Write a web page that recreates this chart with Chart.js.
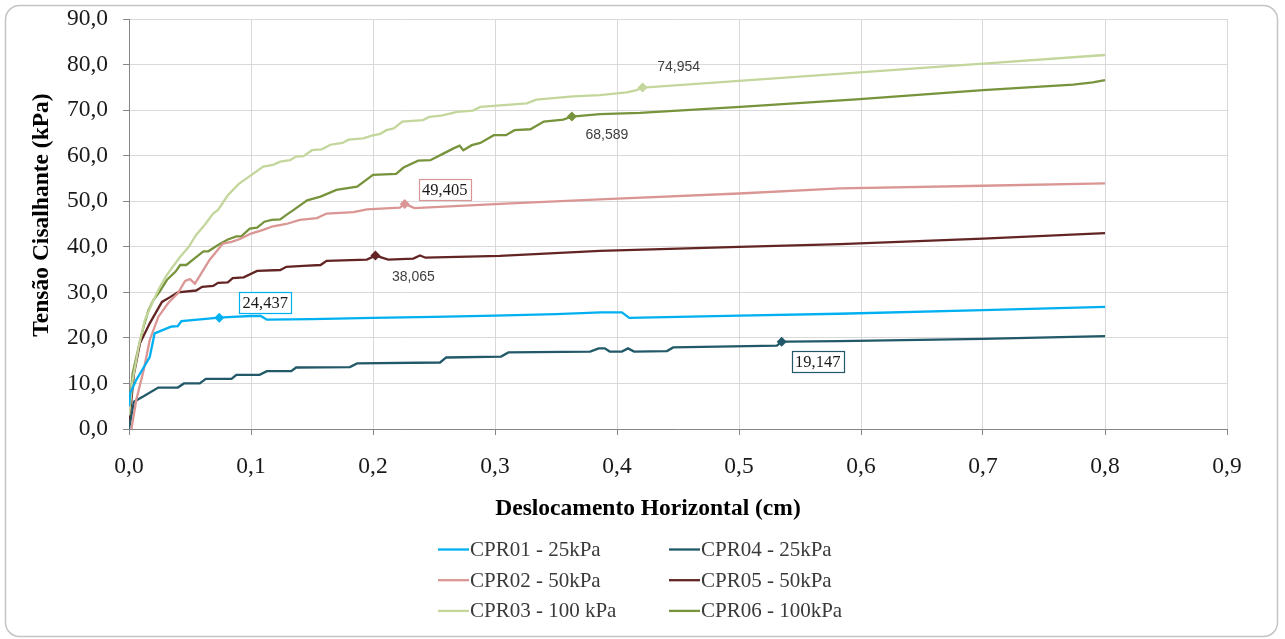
<!DOCTYPE html>
<html>
<head>
<meta charset="utf-8">
<script src="https://cdn.jsdelivr.net/npm/chart.js@4"></script>
<style>
  html, body { margin: 0; padding: 0; background: #fff; }
  canvas { display: block; }
</style>
</head>
<body>
<canvas id="shearChart" width="1285" height="639"></canvas>
<script>
// Deslocamento horizontal (cm) e tensão cisalhante (kPa) de cada ensaio
const cpr01X = [0, 0.001, 0.006, 0.012, 0.017, 0.021, 0.031, 0.035, 0.040, 0.043, 0.074, 0.085, 0.100, 0.108, 0.113, 0.150, 0.200, 0.250, 0.300, 0.350, 0.387, 0.404, 0.410, 0.450, 0.500, 0.582, 0.700, 0.800];
const cpr01Y = [5.0, 7.9, 10.8, 13.5, 15.8, 21.0, 22.1, 22.5, 22.6, 23.7, 24.437, 24.6, 24.8, 24.8, 24.0, 24.1, 24.4, 24.6, 24.9, 25.2, 25.6, 25.6, 24.4, 24.6, 24.9, 25.3, 26.1, 26.8];

const cpr02X = [0.002, 0.006, 0.012, 0.017, 0.024, 0.032, 0.040, 0.046, 0.050, 0.054, 0.058, 0.066, 0.077, 0.084, 0.091, 0.100, 0.110, 0.118, 0.129, 0.140, 0.154, 0.162, 0.184, 0.195, 0.222, 0.226, 0.234, 0.304, 0.386, 0.500, 0.583, 0.700, 0.800];
const cpr02Y = [0, 6.4, 12.9, 19.5, 24.6, 27.6, 29.8, 32.5, 32.9, 31.9, 33.6, 37.1, 40.7, 41.1, 41.7, 42.9, 43.7, 44.5, 45.0, 45.9, 46.3, 47.3, 47.6, 48.2, 48.6, 49.405, 48.5, 49.4, 50.4, 51.7, 52.8, 53.4, 53.9];

const cpr03X = [0, 0.003, 0.008, 0.013, 0.019, 0.024, 0.030, 0.035, 0.042, 0.049, 0.055, 0.062, 0.069, 0.073, 0.081, 0.090, 0.099, 0.110, 0.118, 0.124, 0.132, 0.137, 0.143, 0.150, 0.158, 0.165, 0.175, 0.180, 0.192, 0.199, 0.206, 0.211, 0.217, 0.224, 0.241, 0.246, 0.256, 0.269, 0.282, 0.288, 0.307, 0.326, 0.334, 0.364, 0.386, 0.408, 0.416, 0.421, 0.430, 0.500, 0.599, 0.700, 0.800];
const cpr03Y = [3.0, 10.8, 18.1, 23.9, 27.6, 30.5, 33.4, 35.3, 37.8, 40.0, 42.6, 44.8, 47.3, 48.1, 51.3, 53.8, 55.5, 57.6, 58.0, 58.7, 59.0, 59.8, 59.9, 61.2, 61.4, 62.4, 62.8, 63.5, 63.8, 64.4, 64.8, 65.6, 66.0, 67.5, 67.8, 68.5, 68.8, 69.6, 69.9, 70.7, 71.1, 71.5, 72.3, 73.0, 73.3, 73.9, 74.4, 74.954, 75.1, 76.4, 78.3, 80.2, 82.1];

const cpr04X = [0, 0.004, 0.012, 0.024, 0.040, 0.045, 0.058, 0.063, 0.084, 0.088, 0.107, 0.113, 0.133, 0.137, 0.181, 0.187, 0.255, 0.260, 0.305, 0.311, 0.378, 0.385, 0.390, 0.394, 0.404, 0.409, 0.414, 0.441, 0.446, 0.531, 0.535, 0.539, 0.582, 0.700, 0.800];
const cpr04Y = [0, 6.0, 7.2, 9.1, 9.1, 10.0, 10.0, 11.0, 11.0, 11.9, 11.9, 12.7, 12.7, 13.5, 13.6, 14.4, 14.6, 15.7, 15.9, 16.8, 17.0, 17.7, 17.7, 17.0, 17.0, 17.7, 17.0, 17.1, 17.9, 18.3, 19.147, 19.2, 19.3, 19.8, 20.4];

const cpr05X = [0, 0.004, 0.009, 0.017, 0.027, 0.034, 0.040, 0.055, 0.060, 0.069, 0.073, 0.081, 0.085, 0.094, 0.105, 0.124, 0.129, 0.143, 0.157, 0.162, 0.195, 0.202, 0.2125, 0.233, 0.2385, 0.243, 0.304, 0.386, 0.500, 0.583, 0.700, 0.800];
const cpr05Y = [1.0, 12.0, 18.8, 23.2, 27.9, 29.0, 30.0, 30.4, 31.2, 31.4, 32.1, 32.2, 33.1, 33.3, 34.7, 34.9, 35.6, 35.8, 36.0, 36.9, 37.2, 38.065, 37.2, 37.4, 38.1, 37.6, 38.0, 39.1, 40.0, 40.6, 41.8, 43.0];

const cpr06X = [0, 0.003, 0.008, 0.012, 0.016, 0.020, 0.025, 0.031, 0.038, 0.042, 0.047, 0.054, 0.061, 0.065, 0.073, 0.081, 0.088, 0.092, 0.099, 0.105, 0.111, 0.117, 0.124, 0.129, 0.135, 0.146, 0.157, 0.170, 0.187, 0.200, 0.219, 0.225, 0.237, 0.247, 0.258, 0.266, 0.271, 0.274, 0.281, 0.288, 0.299, 0.309, 0.316, 0.329, 0.340, 0.356, 0.363, 0.386, 0.419, 0.501, 0.599, 0.700, 0.774, 0.790, 0.800];
const cpr06Y = [3.0, 12.2, 18.1, 22.5, 26.1, 28.3, 30.1, 32.7, 34.5, 36.0, 36.0, 37.5, 39.0, 39.0, 40.4, 41.6, 42.3, 42.3, 44.0, 44.2, 45.5, 45.9, 46.0, 47.0, 48.1, 50.2, 51.0, 52.5, 53.2, 55.8, 56.0, 57.4, 58.9, 59.0, 60.5, 61.6, 62.2, 61.2, 62.3, 62.8, 64.5, 64.5, 65.6, 65.8, 67.5, 67.9, 68.589, 69.1, 69.4, 70.7, 72.4, 74.4, 75.6, 76.1, 76.6];

const seriesNames = ["CPR01 - 25kPa", "CPR02 - 50kPa", "CPR03 - 100 kPa", "CPR04 - 25kPa", "CPR05 - 50kPa", "CPR06 - 100kPa"];
const seriesColors = ["#00b0f0", "#da9694", "#c3d69b", "#215968", "#632523", "#77933c"];
// deslocamento do ponto destacado em cada curva
const markX = [0.074, 0.226, 0.421, 0.535, 0.202, 0.363];

const xTicks = { min: 0, max: 0.9, step: 0.1 };
const yTicks = { min: 0, max: 90, step: 10 };

const allX = [cpr01X, cpr02X, cpr03X, cpr04X, cpr05X, cpr06X];
const allY = [cpr01Y, cpr02Y, cpr03Y, cpr04Y, cpr05Y, cpr06Y];

const comma = (v, d) => v.toFixed(d).replace(".", ",");

const datasets = seriesNames.map((name, i) => {
    const pts = allX[i].map((x, j) => ({ x: x, y: allY[i][j] }));
    const mark = allX[i].indexOf(markX[i]);
    return {
        label: name,
        data: pts,
        markIndex: mark,
        borderColor: seriesColors[i],
        backgroundColor: seriesColors[i],
        borderWidth: 2.3,
        tension: 0,
        pointStyle: "rectRot",
        pointRadius: ctx => ctx.dataIndex === mark ? 5 : 0,
        pointBorderWidth: 0,
        pointHoverRadius: 0
    };
});

// caixas de valor ao lado dos pontos destacados
const valueLabels = [
    { dx: 46, dy: -15, box: true },
    { dx: 40, dy: -14, box: true },
    { dx: 36, dy: -20, box: false },
    { dx: 36, dy: 20, box: true },
    { dx: 38, dy: 22, box: false },
    { dx: 35, dy: 19, box: false }
];

const decorations = {
    id: "decorations",
    beforeDraw(chart) {
        const ctx = chart.ctx;
        ctx.save();
        ctx.fillStyle = "#fff";
        ctx.fillRect(0, 0, chart.width, chart.height);
        ctx.strokeStyle = "#c4c4c4";
        ctx.lineWidth = 1.5;
        ctx.beginPath();
        ctx.roundRect(5.5, 5.5, 1272, 631, 14);
        ctx.stroke();
        ctx.restore();
    },
    afterDatasetsDraw(chart) {
        const ctx = chart.ctx;
        ctx.save();
        chart.data.datasets.forEach((ds, i) => {
            const el = chart.getDatasetMeta(i).data[ds.markIndex];
            if (!el) return;
            const cfg = valueLabels[i];
            const text = comma(ds.data[ds.markIndex].y, 3);
            const cx = el.x + cfg.dx;
            const cy = el.y + cfg.dy;
            ctx.textAlign = "center";
            ctx.textBaseline = "middle";
            if (cfg.box) {
                ctx.font = "16.5px 'Liberation Serif'";
                const w = ctx.measureText(text).width + 7;
                const h = 21;
                ctx.fillStyle = "#fff";
                ctx.fillRect(cx - w / 2, cy - h / 2, w, h);
                ctx.strokeStyle = ds.borderColor;
                ctx.lineWidth = 1.2;
                ctx.strokeRect(Math.round(cx - w / 2) + 0.5, Math.round(cy - h / 2) + 0.5, Math.round(w), h);
                ctx.fillStyle = "#1a1a1a";
                ctx.fillText(text, cx, cy + 1);
            } else {
                ctx.font = "14px 'Liberation Sans'";
                ctx.fillStyle = "#404040";
                ctx.fillText(text, cx, cy);
            }
        });
        ctx.restore();
    },
    afterDraw(chart) {
        const ctx = chart.ctx;
        ctx.save();
        ctx.fillStyle = "#000";
        ctx.font = "bold 23.5px 'Liberation Serif'";
        ctx.textAlign = "center";
        ctx.textBaseline = "middle";
        ctx.fillText("Deslocamento Horizontal (cm)", 648, 509);
        ctx.translate(42, 215);
        ctx.rotate(-Math.PI / 2);
        ctx.fillText("Tensão Cisalhante (kPa)", 0, 0);
        ctx.restore();

        // legenda em duas colunas
        ctx.save();
        ctx.font = "21px 'Liberation Serif'";
        ctx.textAlign = "left";
        ctx.textBaseline = "middle";
        chart.data.datasets.forEach((ds, i) => {
            const col = Math.floor(i / 3);
            const row = i % 3;
            const x0 = col === 0 ? 438 : 669;
            const y = 549.5 + row * 30.7;
            ctx.strokeStyle = ds.borderColor;
            ctx.lineWidth = 2.3;
            ctx.beginPath();
            ctx.moveTo(x0, y);
            ctx.lineTo(x0 + 31, y);
            ctx.stroke();
            ctx.fillStyle = "#3a3a3a";
            ctx.fillText(ds.label, x0 + 32, y + 1);
        });
        ctx.restore();
    }
};

new Chart(document.getElementById("shearChart"), {
    type: "line",
    data: { datasets: datasets },
    plugins: [decorations],
    options: {
        responsive: false,
        animation: false,
        events: [],
        layout: { padding: { left: 0, right: 58, top: 19, bottom: 0 } },
        plugins: {
            legend: { display: false },
            tooltip: { enabled: false }
        },
        scales: {
            x: {
                type: "linear",
                min: xTicks.min,
                max: xTicks.max,
                afterFit: scale => { scale.height = 210; },
                border: { color: "#868686", width: 1 },
                grid: { color: "#d9d9d9", tickColor: "#868686", tickLength: 6 },
                ticks: {
                    stepSize: xTicks.step,
                    autoSkip: false,
                    maxRotation: 0,
                    padding: 18,
                    color: "#1a1a1a",
                    font: { family: "'Liberation Serif'", size: 23.5 },
                    callback: v => comma(v, 1)
                }
            },
            y: {
                min: yTicks.min,
                max: yTicks.max,
                afterFit: scale => {
                    scale.width = 129;
                    scale.paddingTop = 0;
                    scale.paddingBottom = 0;
                },
                border: { color: "#868686", width: 1 },
                grid: { color: "#d9d9d9", tickColor: "#868686", tickLength: 6 },
                ticks: {
                    stepSize: yTicks.step,
                    padding: 15,
                    color: "#1a1a1a",
                    font: { family: "'Liberation Serif'", size: 23.5, lineHeight: 0.8 },
                    callback: v => comma(v, 1)
                }
            }
        }
    }
});
</script>
</body>
</html>
